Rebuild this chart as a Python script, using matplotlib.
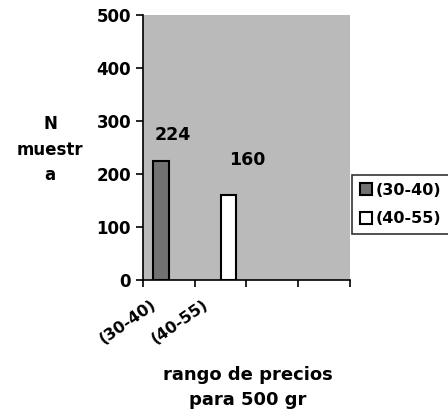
import matplotlib
matplotlib.use('Agg')
import matplotlib.pyplot as plt
import matplotlib.transforms as mtransforms
import numpy as np

categories = ['(30-40)', '(40-55)', '', '']
series_names = ['(30-40)', '(40-55)']
series_values = [[224, np.nan, np.nan, np.nan],
                 [np.nan, 160, np.nan, np.nan]]
y_ticks = [0, 100, 200, 300, 400, 500]

plt.rcParams['font.family'] = ['DejaVu Sans']
plt.rcParams['font.weight'] = 'bold'

fig = plt.figure(figsize=(4.48, 4.16), dpi=100)
ax = fig.add_axes([0.319, 0.327, 0.462, 0.637])
ax.set_facecolor('#bababa')

x = np.arange(len(categories)) + 0.5
width = 0.3
colors = ['#727272', 'white']
offsets = [-0.15, 0.15]
for vals, name, c, off in zip(series_values, series_names, colors, offsets):
    ax.bar(x + off, vals, width, color=c, edgecolor='black', linewidth=1.5, label=name)

# value labels
ax.text(x[0] + 0.08, series_values[0][0] + 50, '224', ha='center', va='center', fontsize=12.5, fontweight='bold')
ax.text(x[1] + 0.52, series_values[1][1] + 66, '160', ha='center', va='center', fontsize=12.5, fontweight='bold')

ax.set_xlim(0, len(categories))
ax.set_ylim(0, 500)
ax.set_yticks(y_ticks)
ax.set_xticks(np.arange(len(categories) + 1))
ax.set_xticklabels([])
ax.set_xticks(x, categories, minor=True)
ax.tick_params(axis='x', which='minor', length=0, pad=12)
ax.tick_params(axis='both', which='major', direction='out', length=5, width=1.2, labelsize=12)
shift = mtransforms.ScaledTranslation(-18 / 100, 0, fig.dpi_scale_trans)
for lab in ax.get_xticklabels(minor=True):
    lab.set_rotation(35)
    lab.set_ha('right')
    lab.set_rotation_mode('anchor')
    lab.set_fontsize(11.5)
    lab.set_fontweight('bold')
    lab.set_transform(lab.get_transform() + shift)
for lab in ax.get_yticklabels():
    lab.set_fontweight('bold')

ax.spines['top'].set_visible(False)
ax.spines['right'].set_visible(False)
ax.spines['left'].set_linewidth(1.2)
ax.spines['bottom'].set_linewidth(1.2)

fig.text(0.112, 0.64, 'N\nmuestr\na', ha='center', va='center', fontsize=12, fontweight='bold', linespacing=1.55)
fig.text(0.553, 0.068, 'rango de precios\npara 500 gr', ha='center', va='center', fontsize=13, fontweight='bold', linespacing=1.5)

leg = ax.legend(loc='center left', bbox_to_anchor=(1.01, 0.285), frameon=True, fancybox=False,
                edgecolor='black', fontsize=11.5, handlelength=0.75, handleheight=0.75, handletextpad=0.25,
                borderaxespad=0, borderpad=0.5, labelspacing=0.85)
leg.get_frame().set_linewidth(1.2)
for t in leg.get_texts():
    t.set_fontweight('bold')

fig.savefig('out.png', dpi=100)
